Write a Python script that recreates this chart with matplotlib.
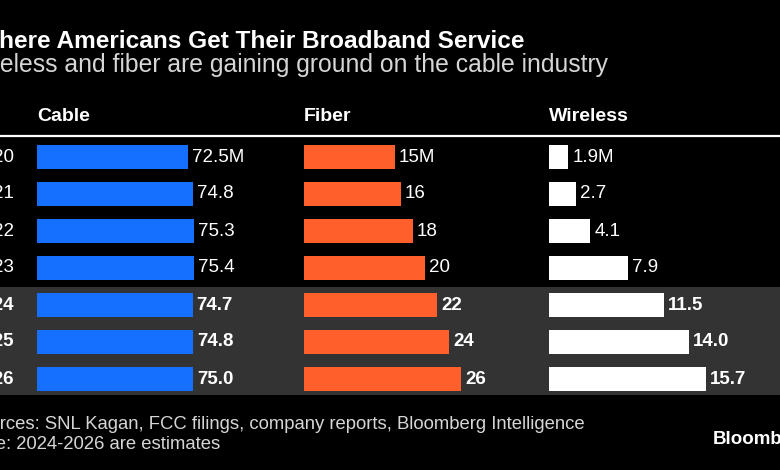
import matplotlib.pyplot as plt

years = ["2020", "2021", "2022", "2023", "2024", "2025", "2026"]
cable = [72.5, 74.8, 75.3, 75.4, 74.7, 74.8, 75.0]
fiber = [15, 16, 18, 20, 22, 24, 26]
wireless = [1.9, 2.7, 4.1, 7.9, 11.5, 14.0, 15.7]
cable_lbl = ["72.5M", "74.8", "75.3", "75.4", "74.7", "74.8", "75.0"]
fiber_lbl = ["15M", "16", "18", "20", "22", "24", "26"]
wireless_lbl = ["1.9M", "2.7", "4.1", "7.9", "11.5", "14.0", "15.7"]
estimate_from = 4  # 2024 onwards are estimates

W, H = 780, 470
plt.rcParams['font.family'] = ['Liberation Sans', 'DejaVu Sans']
fig = plt.figure(figsize=(W / 100, H / 100), dpi=100, facecolor='black')


def px(x, y):
    return x / W, 1 - y / H


def box(x0, y0, x1, y1):
    return [x0 / W, 1 - y1 / H, (x1 - x0) / W, (y1 - y0) / H]


n = len(years)
top, bottom = 138.5, 138.5 + 37 * n

# background band for estimates
bg = fig.add_axes(box(0, top, W, bottom))
bg.set_xlim(0, 1)
bg.set_ylim(n - 0.5, -0.5)
bg.axhspan(estimate_from - 0.5, n - 0.57, color='#333333', lw=0)
bg.axis('off')

# white rule under headers
fig.add_artist(plt.Line2D([0, 1], [1 - 136 / H] * 2, color='white', lw=1.6))

cols = [("Cable", cable, cable_lbl, '#1570ff', 37),
        ("Fiber", fiber, fiber_lbl, '#ff5f2b', 304),
        ("Wireless", wireless, wireless_lbl, 'white', 549)]

for name, vals, lbls, color, x0 in cols:
    ax = fig.add_axes(box(x0, top, x0 + 200, bottom))
    ax.set_xlim(0, max(vals) * 200 / 157)
    ax.set_ylim(n - 0.5, -0.5)
    ax.barh(range(n), vals, height=0.65, color=color)
    for i, (v, t) in enumerate(zip(vals, lbls)):
        ax.annotate(t, (v, i), xytext=(3, 0), textcoords='offset points',
                    va='center', ha='left', color='white', fontsize=13.5,
                    fontweight='bold' if i >= estimate_from else 'normal')
    ax.axis('off')
    ax.patch.set_alpha(0)
    fig.text(*px(x0, 121), name, color='white', fontsize=14,
             fontweight='bold', va='baseline')

for i, y in enumerate(years):
    fig.text(*px(-28, 157 + 37 * i), y, color='white', fontsize=13.5,
             va='center', fontweight='bold' if i >= estimate_from else 'normal')

fig.text(*px(-24, 48), "Where Americans Get Their Broadband Service",
         color='white', fontsize=17.6, fontweight='bold', va='baseline')
fig.text(*px(-37, 72), "Wireless and fiber are gaining ground on the cable industry",
         color='#d6d6d6', fontsize=17.8, va='baseline')
fig.text(*px(-33, 429),
         "Sources: SNL Kagan, FCC filings, company reports, Bloomberg Intelligence",
         color='#d6d6d6', fontsize=13.3, va='baseline')
fig.text(*px(-33, 449), "Note: 2024-2026 are estimates",
         color='#d6d6d6', fontsize=13.3, va='baseline')
fig.text(*px(713, 444), "Bloomberg", color='white', fontsize=13.5,
         fontweight='bold', va='baseline')

fig.savefig('out.png', dpi=100, facecolor='black')
